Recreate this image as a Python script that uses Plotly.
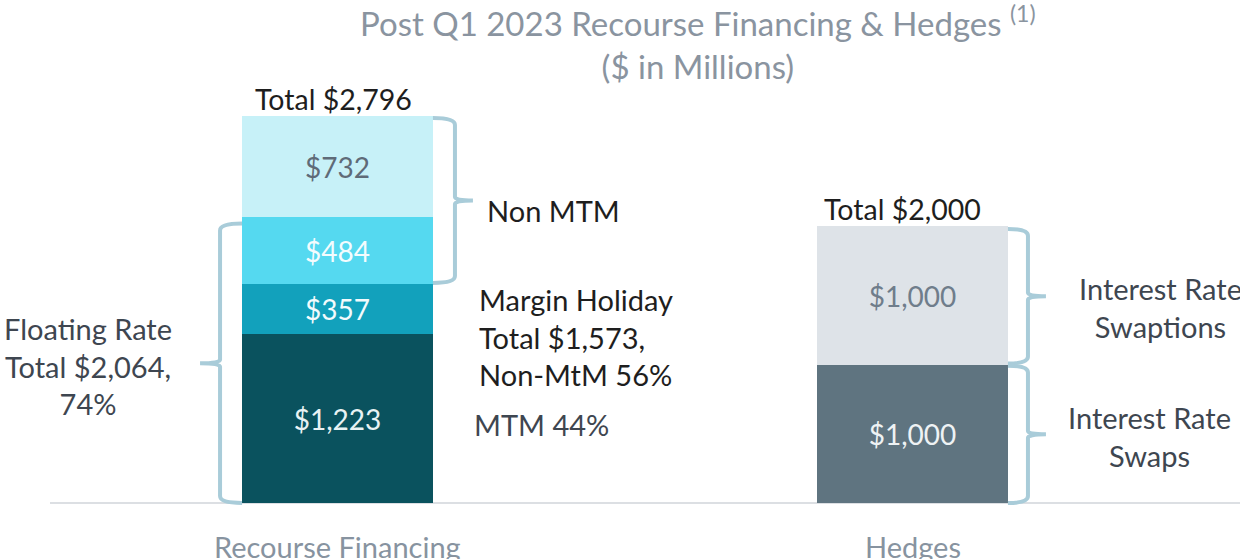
import plotly.graph_objects as go

# ---- data ----
categories = ["Recourse Financing", "Hedges"]
recourse_labels = ["MTM", "Margin Holiday MTM", "Margin Holiday Non-MtM", "Non MTM"]
recourse_values = [1223, 357, 484, 732]
hedge_labels = ["Interest Rate Swaps", "Interest Rate Swaptions"]
hedge_values = [1000, 1000]
recourse_total = 2796
hedge_total = 2000
floating_total = 2064

recourse_colors = ["#0a525e", "#12a1bc", "#55d9f0", "#c7f1f8"]
recourse_text_colors = ["#e8f2f4", "#f2fbfd", "#f4fcfe", "#5f6b78"]
hedge_colors = ["#5f7480", "#dee3e8"]
hedge_text_colors = ["#eef2f4", "#6f7d8b"]

FONT = "Lato"
BRACE = "#a9ccd9"
BAR_W = 0.332
LBL = 29

fig = go.Figure()
for v, c, tc, name in zip(recourse_values, recourse_colors, recourse_text_colors, recourse_labels):
    fig.add_trace(go.Bar(x=[0], y=[v], width=BAR_W, marker=dict(color=c, line=dict(width=0)),
                         text=[f"${v:,}"], textposition="inside", insidetextanchor="middle",
                         textangle=0, textfont=dict(family=FONT, size=28, color=tc),
                         name=name, showlegend=False, hoverinfo="skip"))
for v, c, tc, name in zip(hedge_values, hedge_colors, hedge_text_colors, hedge_labels):
    fig.add_trace(go.Bar(x=[1], y=[v], width=BAR_W, marker=dict(color=c, line=dict(width=0)),
                         text=[f"${v:,}"], textposition="inside", insidetextanchor="middle",
                         textangle=0, textfont=dict(family=FONT, size=28, color=tc),
                         name=name, showlegend=False, hoverinfo="skip"))

k = 387 / 2796  # px per unit
ymin, ymax = -56 / k, 503 / k
xmin, xmax = -337.5 / 575, (1240 - 337.5) / 575


def brace(anchor_x, y0, y1, direction=1, arm=22, tip=40, d=50):
    s = direction
    ym = (y0 + y1) / 2
    p = (f"M 0,{y1} Q {s*arm},{y1} {s*arm},{y1-d} L {s*arm},{ym+d/2} "
         f"Q {s*arm},{ym} {s*tip},{ym} Q {s*arm},{ym} {s*arm},{ym-d/2} "
         f"L {s*arm},{y0+d} Q {s*arm},{y0} 0,{y0}")
    fig.add_shape(type="path", path=p, xref="x", yref="y", xsizemode="pixel", xanchor=anchor_x,
                  line=dict(color=BRACE, width=4))


left0 = 0 - BAR_W / 2
right0 = 0 + BAR_W / 2
right1 = 1 + BAR_W / 2
nonmtm_bottom = recourse_values[0] + recourse_values[1]
brace(right0, nonmtm_bottom + 10, recourse_total - 15, 1, arm=22, tip=40)
brace(left0, 0, floating_total - 45, -1, arm=22, tip=42)
brace(right1, hedge_values[0] + 8, hedge_total - 20, 1, arm=20, tip=38)
brace(right1, 0, hedge_values[0] - 8, 1, arm=20, tip=38)

# axis line
fig.add_shape(type="line", xref="paper", yref="y", x0=50 / 1240, x1=1, y0=0, y1=0,
              line=dict(color="#dcdfe3", width=2), layer="below")

ann = []
dark = "#1e1e1e"
grey = "#3e4650"
# totals
ann.append(dict(x=0, y=recourse_total, text=f"Total ${recourse_total:,}", showarrow=False,
                yanchor="bottom", xshift=-4, yshift=-2, font=dict(family=FONT, size=28.5, color=dark)))
ann.append(dict(x=1, y=hedge_total, text=f"Total ${hedge_total:,}", showarrow=False,
                yanchor="bottom", xshift=-10, yshift=-2, font=dict(family=FONT, size=28.5, color=dark)))
# category labels
for i, c in enumerate(categories):
    ann.append(dict(x=i, y=0, text=c, showarrow=False, yanchor="middle", yshift=-43,
                    font=dict(family=FONT, size=LBL, color="#8793a0")))
# side labels
ann.append(dict(x=right0, y=(nonmtm_bottom + recourse_total) / 2, text="Non MTM", showarrow=False,
                xanchor="left", xshift=52, yshift=-10, font=dict(family=FONT, size=LBL, color=dark)))
ann.append(dict(x=right0, y=recourse_values[0], text="Margin Holiday<br>Total $1,573,<br>Non-MtM 56%",
                showarrow=False, xanchor="left", align="left", xshift=44, yshift=-3,
                font=dict(family=FONT, size=LBL, color=dark)))
ann.append(dict(x=right0, y=recourse_values[0] / 2, text="MTM 44%", showarrow=False,
                xanchor="left", xshift=39, yshift=-6, font=dict(family=FONT, size=LBL, color=grey)))
ann.append(dict(x=left0, y=floating_total / 2, text="Floating Rate<br>Total $2,064,<br>74%",
                showarrow=False, xanchor="center", align="center", xshift=-154, yshift=-6,
                font=dict(family=FONT, size=LBL, color=grey)))
ann.append(dict(x=right1, y=(hedge_values[0] + hedge_total) / 2, text="Interest Rate<br>Swaptions",
                showarrow=False, xanchor="center", align="center", xshift=153, yshift=-12,
                font=dict(family=FONT, size=LBL, color=grey)))
ann.append(dict(x=right1, y=hedge_values[0] / 2, text="Interest Rate<br>Swaps",
                showarrow=False, xanchor="center", align="center", xshift=142, yshift=-3,
                font=dict(family=FONT, size=LBL, color=grey)))
# title
ann.append(dict(x=698 / 1240, y=1 - 42 / 559, xref="paper", yref="paper",
                text="Post Q1 2023 Recourse Financing & Hedges <sup>(1)</sup><br>($ in Millions)",
                showarrow=False, align="center", yanchor="middle",
                font=dict(family=FONT, size=33, color="#8a94a0")))

fig.update_layout(
    width=1240, height=559, autosize=False,
    margin=dict(l=0, r=0, t=0, b=0),
    barmode="stack", bargap=0,
    plot_bgcolor="white", paper_bgcolor="white",
    xaxis=dict(range=[xmin, xmax], visible=False, fixedrange=True),
    yaxis=dict(range=[ymin, ymax], visible=False, fixedrange=True),
    annotations=ann,
)
fig.write_html("out.html", config={"displayModeBar": False},
               post_script="document.body.style.margin='0';document.body.style.overflow='hidden';")
